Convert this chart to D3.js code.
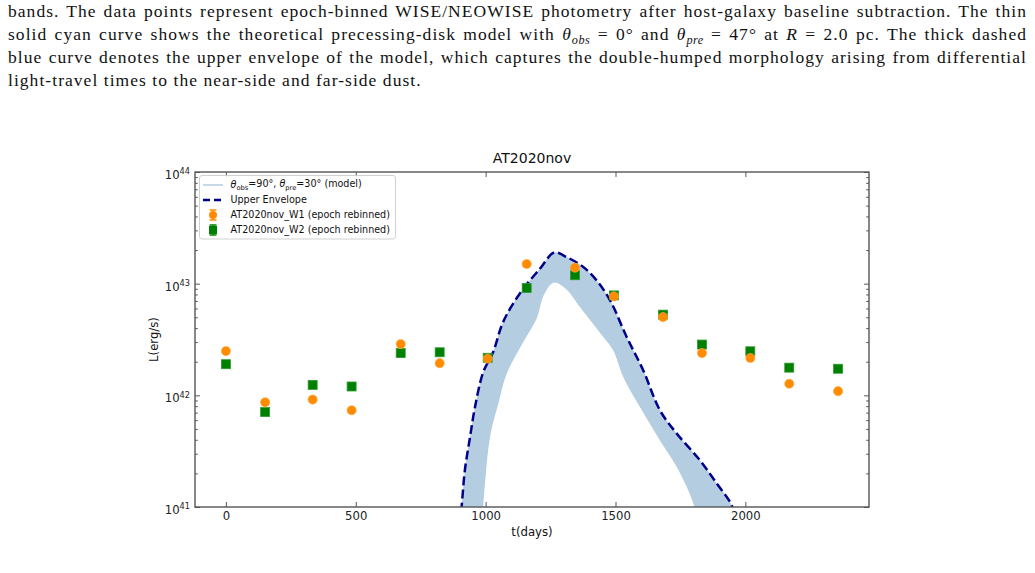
<!DOCTYPE html>
<html><head><meta charset="utf-8">
<script src="https://cdn.jsdelivr.net/npm/d3@7"></script>
<style>
body{margin:0;background:#fff;width:1035px;height:573px;overflow:hidden;position:relative}
#cap{position:absolute;left:8px;top:0;width:1019px;font-family:"Liberation Serif","Times New Roman",serif;font-size:17.5px;letter-spacing:1.05px;line-height:23px;color:#111}
#cap div{text-align:justify;text-align-last:justify;white-space:nowrap}
#cap div.last{text-align-last:left}
#cap sub{font-size:70%;vertical-align:-0.3em;line-height:0;letter-spacing:0.5px}
svg{position:absolute;left:0;top:0}
svg text{font-family:"DejaVu Sans",sans-serif}
</style></head>
<body>
<div id="cap"></div>
<script>
// ---------------- data ----------------
const captionLines = [
  "bands. The data points represent epoch-binned WISE/NEOWISE photometry after host-galaxy baseline subtraction. The thin",
  "solid cyan curve shows the theoretical precessing-disk model with <i>θ<sub>obs</sub></i> = 0° and <i>θ<sub>pre</sub></i> = 47° at <i>R</i> = 2.0 pc. The thick dashed",
  "blue curve denotes the upper envelope of the model, which captures the double-humped morphology arising from differential",
  "light-travel times to the near-side and far-side dust."
];
const chartTitle = "AT2020nov";
const xLabel = "t(days)";
const yLabel = "L(erg/s)";
const xTicks = [0, 500, 1000, 1500, 2000];
const yTicks = [1e41, 1e42, 1e43, 1e44];

const tDays = [0, 151, 334, 484, 673, 823, 1008, 1158, 1344, 1494, 1683, 1833, 2019, 2169, 2357];
const lumW1 = [2.49e42, 8.66e41, 9.16e41, 7.35e41, 2.88e42, 1.94e42, 2.13e42, 1.50e43, 1.39e43, 7.69e42, 5.02e42, 2.39e42, 2.16e42, 1.27e42, 1.09e42];
const lumW2 = [1.90e42, 7.08e41, 1.24e42, 1.20e42, 2.39e42, 2.43e42, 2.17e42, 9.14e42, 1.19e43, 7.85e42, 5.28e42, 2.85e42, 2.48e42, 1.77e42, 1.73e42];
const errW1 = [0.05, 0.05, 0.05, 0.05, 0.05, 0.05, 0.05, 0.05, 0.05, 0.05, 0.05, 0.05, 0.05, 0.05, 0.05];
const errW2 = [0.05, 0.05, 0.05, 0.05, 0.05, 0.05, 0.05, 0.05, 0.05, 0.05, 0.05, 0.05, 0.05, 0.05, 0.05];

// upper envelope (dashed)
const envT = [900, 908, 920, 940, 959, 991, 1029, 1062, 1094, 1145, 1209, 1264, 1312, 1376, 1427, 1479, 1543, 1607, 1671, 1736, 1825, 1890, 1947, 1965];
const envL = [7.0e40, 1.04e41, 2.13e41, 4.24e41, 7.85e41, 1.62e42, 2.44e42, 4.24e42, 5.97e42, 9.02e42, 1.36e43, 1.90e43, 1.73e43, 1.41e43, 1.07e43, 7.10e42, 3.33e42, 1.67e42, 7.35e41, 4.54e41, 2.62e41, 1.62e41, 1.04e41, 7.0e40];
// lower edge of model band
const lowT = [985, 991, 1017, 1049, 1081, 1145, 1196, 1225, 1262, 1310, 1363, 1453, 1491, 1530, 1594, 1671, 1736, 1800, 1815];
const lowL = [7.0e40, 1.04e41, 4.24e41, 8.43e41, 1.56e42, 3.00e42, 4.86e42, 8.0e42, 1.02e43, 8.9e42, 6.18e42, 3.33e42, 2.53e42, 1.46e42, 7.85e41, 3.95e41, 2.28e41, 1.07e41, 7.0e40];

const legendLabels = ["Upper Envelope", "AT2020nov_W1 (epoch rebinned)", "AT2020nov_W2 (epoch rebinned)"];

// ---------------- caption ----------------
const cap = d3.select("#cap");
captionLines.forEach((s, i) => {
  cap.append("div").attr("class", i === captionLines.length - 1 ? "last" : null).html(s);
});

// ---------------- chart ----------------
const W = 1035, H = 573;
const L = 195, R = 869, T = 172, B = 507;
const svg = d3.select("body").append("svg").attr("width", W).attr("height", H);

const x = d3.scaleLinear().domain([-119, 2476]).range([L, R]);
const y = d3.scaleLog().domain([1e41, 1e44]).range([B, T]);

svg.append("clipPath").attr("id", "clip").append("rect")
  .attr("x", L).attr("y", T).attr("width", R - L).attr("height", B - T);
const plot = svg.append("g").attr("clip-path", "url(#clip)");

const lineGen = d3.line().x(d => x(d[0])).y(d => y(d[1])).curve(d3.curveCatmullRom.alpha(0.5));
const env = envT.map((t, i) => [t, envL[i]]);
const low = lowT.map((t, i) => [t, lowL[i]]).reverse();
const bandPath = lineGen(env) + "L" + lineGen(low).slice(1) + "Z";
plot.append("path").attr("d", bandPath).attr("fill", "#b5cde1").attr("stroke", "none");
plot.append("path").attr("d", lineGen(env)).attr("fill", "none")
  .attr("stroke", "#00008b").attr("stroke-width", 2.5).attr("stroke-dasharray", "9,4");

// W2 squares
const gW2 = plot.append("g");
tDays.forEach((t, i) => {
  const v = lumW2[i], e = errW2[i] * v;
  gW2.append("line").attr("x1", x(t)).attr("x2", x(t)).attr("y1", y(v - e)).attr("y2", y(v + e)).attr("stroke", "green").attr("stroke-width", 1.5);
  gW2.append("rect").attr("x", x(t) - 4.5).attr("y", y(v) - 4.5).attr("width", 9).attr("height", 9)
    .attr("fill", "#008000").attr("stroke", "#2f9a2f").attr("stroke-width", 0.8);
});
// W1 circles
const gW1 = plot.append("g");
tDays.forEach((t, i) => {
  const v = lumW1[i], e = errW1[i] * v;
  gW1.append("line").attr("x1", x(t)).attr("x2", x(t)).attr("y1", y(v - e)).attr("y2", y(v + e)).attr("stroke", "#ff8c00").attr("stroke-width", 1.5);
  gW1.append("circle").attr("cx", x(t)).attr("cy", y(v)).attr("r", 4.6)
    .attr("fill", "#ff8c00").attr("stroke", "#ffa640").attr("stroke-width", 0.6);
});

// ---------------- axes ----------------
const minorY = [];
[41, 42, 43].forEach(d => { for (let k = 2; k <= 9; k++) minorY.push(k * Math.pow(10, d)); });

function styleAxis(g) {
  g.select(".domain").remove();
  g.selectAll(".tick line").attr("stroke", "#444").attr("stroke-width", 0.9);
  g.selectAll("text").attr("fill", "#222").attr("font-family", "DejaVu Sans, sans-serif");
}
const gx = svg.append("g").attr("transform", `translate(0,${B})`)
  .call(d3.axisBottom(x).tickValues(xTicks).tickSize(-5).tickPadding(5).tickFormat(d3.format("d")));
styleAxis(gx); gx.selectAll("text").attr("font-size", 11.7);
const gxt = svg.append("g").attr("transform", `translate(0,${T})`)
  .call(d3.axisTop(x).tickValues(xTicks).tickSize(-5).tickFormat(""));
styleAxis(gxt);

const gy = svg.append("g").attr("transform", `translate(${L},0)`)
  .call(d3.axisLeft(y).tickValues(yTicks).tickSize(-5).tickPadding(5).tickFormat(""));
styleAxis(gy);
gy.selectAll(".tick text").each(function (d) {
  const t = d3.select(this).attr("font-size", 11.7).attr("dy", "0.55em");
  t.append("tspan").text("10");
  t.append("tspan").attr("dy", "-0.55em").attr("font-size", 8.2).text(Math.round(Math.log10(d)));
});
const gyMinor = svg.append("g").attr("transform", `translate(${L},0)`)
  .call(d3.axisLeft(y).tickValues(minorY).tickSize(-2.8).tickFormat(""));
styleAxis(gyMinor);
const gyr = svg.append("g").attr("transform", `translate(${R},0)`)
  .call(d3.axisRight(y).tickValues(yTicks).tickSize(-5).tickFormat(""));
styleAxis(gyr);
const gyrMinor = svg.append("g").attr("transform", `translate(${R},0)`)
  .call(d3.axisRight(y).tickValues(minorY).tickSize(-2.8).tickFormat(""));
styleAxis(gyrMinor);

// frame
svg.append("rect").attr("x", L).attr("y", T).attr("width", R - L).attr("height", B - T)
  .attr("fill", "none").attr("stroke", "#555").attr("stroke-width", 1.4);

// labels
svg.append("text").attr("x", (L + R) / 2).attr("y", 163).attr("text-anchor", "middle")
  .attr("font-size", 14).attr("fill", "#111").text(chartTitle);
svg.append("text").attr("x", (L + R) / 2).attr("y", 536).attr("text-anchor", "middle")
  .attr("font-size", 11.7).attr("fill", "#111").text(xLabel);
svg.append("text").attr("transform", `translate(158,${(T + B) / 2}) rotate(-90)`).attr("text-anchor", "middle")
  .attr("font-size", 11.7).attr("fill", "#111").text(yLabel);

// ---------------- legend ----------------
const lg = svg.append("g");
lg.append("rect").attr("x", 199.5).attr("y", 175.5).attr("width", 196).attr("height", 63.5).attr("rx", 2.5)
  .attr("fill", "white").attr("fill-opacity", 0.85).attr("stroke", "#cccccc").attr("stroke-width", 0.9);
const rowY = [185, 200, 215, 230];
const hx0 = 203, hx1 = 223, tx = 230.5, fs = 9.6;
// model
lg.append("line").attr("x1", hx0).attr("x2", hx1).attr("y1", rowY[0]).attr("y2", rowY[0]).attr("stroke", "#b5cde1").attr("stroke-width", 1.5);
const t0 = lg.append("text").attr("x", tx).attr("y", rowY[0]).attr("dy", "0.35em").attr("font-size", fs).attr("fill", "#111");
t0.append("tspan").attr("font-style", "italic").text("θ");
t0.append("tspan").attr("font-size", fs * 0.7).attr("dy", "0.3em").text("obs");
t0.append("tspan").attr("dy", "-0.3em").text("=90°, ");
t0.append("tspan").attr("font-style", "italic").text("θ");
t0.append("tspan").attr("font-size", fs * 0.7).attr("dy", "0.3em").text("pre");
t0.append("tspan").attr("dy", "-0.3em").text("=30° (model)");
// envelope
lg.append("line").attr("x1", hx0).attr("x2", hx1).attr("y1", rowY[1]).attr("y2", rowY[1])
  .attr("stroke", "#00008b").attr("stroke-width", 2.5).attr("stroke-dasharray", "7,4");
lg.append("text").attr("x", tx).attr("y", rowY[1]).attr("dy", "0.35em").attr("font-size", fs).attr("fill", "#111").text(legendLabels[0]);
// W1
const cx = (hx0 + hx1) / 2;
lg.append("line").attr("x1", cx).attr("x2", cx).attr("y1", rowY[2] - 5).attr("y2", rowY[2] + 5).attr("stroke", "#ff8c00").attr("stroke-width", 1.5);
lg.append("line").attr("x1", cx - 3.5).attr("x2", cx + 3.5).attr("y1", rowY[2] - 5).attr("y2", rowY[2] - 5).attr("stroke", "#ff8c00").attr("stroke-width", 1.5);
lg.append("line").attr("x1", cx - 3.5).attr("x2", cx + 3.5).attr("y1", rowY[2] + 5).attr("y2", rowY[2] + 5).attr("stroke", "#ff8c00").attr("stroke-width", 1.5);
lg.append("circle").attr("cx", cx).attr("cy", rowY[2]).attr("r", 4).attr("fill", "#ff8c00");
lg.append("text").attr("x", tx).attr("y", rowY[2]).attr("dy", "0.35em").attr("font-size", fs).attr("fill", "#111").text(legendLabels[1]);
// W2
lg.append("line").attr("x1", cx).attr("x2", cx).attr("y1", rowY[3] - 5).attr("y2", rowY[3] + 5).attr("stroke", "green").attr("stroke-width", 1.5);
lg.append("line").attr("x1", cx - 3.5).attr("x2", cx + 3.5).attr("y1", rowY[3] - 5).attr("y2", rowY[3] - 5).attr("stroke", "green").attr("stroke-width", 1.5);
lg.append("line").attr("x1", cx - 3.5).attr("x2", cx + 3.5).attr("y1", rowY[3] + 5).attr("y2", rowY[3] + 5).attr("stroke", "green").attr("stroke-width", 1.5);
lg.append("rect").attr("x", cx - 4).attr("y", rowY[3] - 4).attr("width", 8).attr("height", 8).attr("fill", "#008000");
lg.append("text").attr("x", tx).attr("y", rowY[3]).attr("dy", "0.35em").attr("font-size", fs).attr("fill", "#111").text(legendLabels[2]);
</script>
</body></html>
